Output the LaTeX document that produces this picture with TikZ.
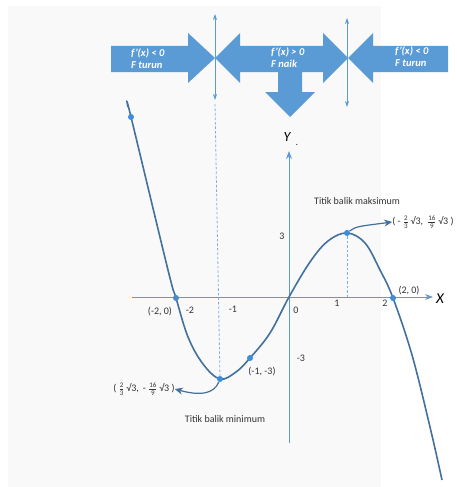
\documentclass[tikz,border=0pt]{standalone}
\usepackage{fontspec}
\setmainfont{Carlito}
\usepackage{amsmath}
\usetikzlibrary{arrows.meta}

\definecolor{officeblue}{HTML}{5B9BD5}
\definecolor{curveblue}{HTML}{41719C}
\definecolor{pntblue}{HTML}{3C8DDC}
\definecolor{bggray}{HTML}{F9F9F9}
\newcommand{\sfr}[2]{\ensuremath{\tfrac{\text{#1}}{\text{#2}}}}

\begin{document}
\begin{tikzpicture}[
  x=1pt, y=-1pt,
  lbl/.style={font=\fontsize{10}{11}\selectfont, text=black!80, inner sep=0pt},
  blk/.style={fill=officeblue},
  blktext/.style={font=\fontsize{10.5}{12}\selectfont\bfseries\itshape, text=white, align=left, anchor=west, inner sep=0pt},
  pnt/.style={circle, fill=pntblue, minimum size=6pt, inner sep=0pt},
  axis/.style={draw=officeblue, line width=1pt, -{Stealth[length=8pt,width=6pt]}},
  marker/.style={draw=officeblue, line width=0.7pt, {Stealth[length=6pt,width=4pt]}-{Stealth[length=6pt,width=4pt]}},
  guide/.style={draw=officeblue!80, dash pattern=on 2.5pt off 2pt, line width=0.8pt},
  curve/.style={draw=curveblue, line width=1.6pt},
  callout/.style={draw=curveblue, line width=1.2pt, -{Stealth[length=8pt,width=7pt]}}
]
\useasboundingbox (0,0) rectangle (456,487);
\fill[bggray] (8,6) rectangle (381,487);

% block arrows
\fill[blk] (111,46) -- (188,46) -- (188,33) -- (215,58) -- (188,83) -- (188,72) -- (111,72) -- cycle;
\fill[blk] (215,58) -- (240,33) -- (240,46) -- (323,46) -- (323,33) -- (348,58) -- (323,83) -- (323,72)
  -- (302,72) -- (302,92) -- (315,92) -- (290,117) -- (265,92) -- (278,92) -- (278,72)
  -- (240,72) -- (240,83) -- cycle;
\fill[blk] (348,58) -- (373,33) -- (373,46) -- (448,46) -- (448,72) -- (373,72) -- (373,83) -- cycle;
\node[blktext] (turunL) at (131,59) {f'(x) < 0\\F turun};
\node[blktext] (naik) at (271,58) {f'(x) > 0\\F naik};
\node[blktext] (turunR) at (395,57) {f'(x) < 0\\F turun};

% markers
\coordinate (mtopA) at (215,14);
\coordinate (mbotA) at (215,100);
\coordinate (mtopB) at (347,18);
\coordinate (mbotB) at (347,107);
\draw[marker] (mtopA) -- (mbotA);
\draw[marker] (mtopB) -- (mbotB);

% axes
\coordinate (xstart) at (132,297);
\coordinate (xend) at (433,297);
\coordinate (ystart) at (289,443);
\coordinate (yend) at (289,151);
\draw[axis] (xstart) -- (xend);
\draw[axis] (ystart) -- (yend);
\node[font=\fontsize{15}{15}\selectfont\itshape, inner sep=0pt] (xlbl) at (440,299) {X};
\node[font=\fontsize{14}{14}\selectfont\itshape, inner sep=0pt] (ylbl) at (287,137) {Y};
\node[lbl] (ydot) at (297,145) {.};

% curve
\draw[curve] plot[smooth, tension=0.6] coordinates {(128,107) (131,117) (168,270) (176,298) (188,337)
  (203,364) (220,379) (236,372) (250,358) (270,333) (289,297) (310,262) (328,241) (347,233)
  (365,243) (380,270) (393,298) (412,355) (430,427) (442,480)};

% points
\node[pnt] (ptop) at (131,117) {};
\node[pnt] (pnegtwo) at (176,298) {};
\node[pnt] (pmin) at (220,379) {};
\node[pnt] (pneg) at (250,358) {};
\node[pnt] (pmax) at (347,233) {};
\node[pnt] (ptwo) at (393,298) {};

% guides
\coordinate (gtopA) at (215,104);
\coordinate (gbotB) at (347,297);
\draw[guide] (gtopA) -- (pmin);
\draw[guide] (pmax) -- (gbotB);

% tick labels
\node[lbl] (lnegtwo) at (190,310) {-2};
\node[lbl] (lnegone) at (233,309) {-1};
\node[lbl] (lzero) at (296,310) {0};
\node[lbl] (lone) at (337,303) {1};
\node[lbl] (ltwo) at (385,303) {2};
\node[lbl] (lthree) at (282,236) {3};
\node[lbl] (lnegthree) at (301,358) {-3};

% point labels
\node[lbl] (cnegtwo) at (160,312) {(-2, 0)};
\node[lbl] (ctwo) at (409,291) {(2, 0)};
\node[lbl] (cneg) at (262,372) {(-1, -3)};
\node[lbl] (cmin) at (144,389) {( \sfr{2}{3}\,√3,\, - \sfr{16}{9}\,√3 )};
\node[lbl] (cmax) at (423,222) {( - \sfr{2}{3}\,√3,\, \sfr{16}{9}\,√3 )};
\node[lbl] (tmin) at (225,419) {Titik balik minimum};
\node[lbl] (tmax) at (357,201) {Titik balik maksimum};

% callouts
\draw[callout] (pmin) .. controls (214,394) and (200,396) .. (cmin.east);
\draw[callout] (pmax) .. controls (356,226) and (362,226) .. (cmax.west);
\end{tikzpicture}
\end{document}
